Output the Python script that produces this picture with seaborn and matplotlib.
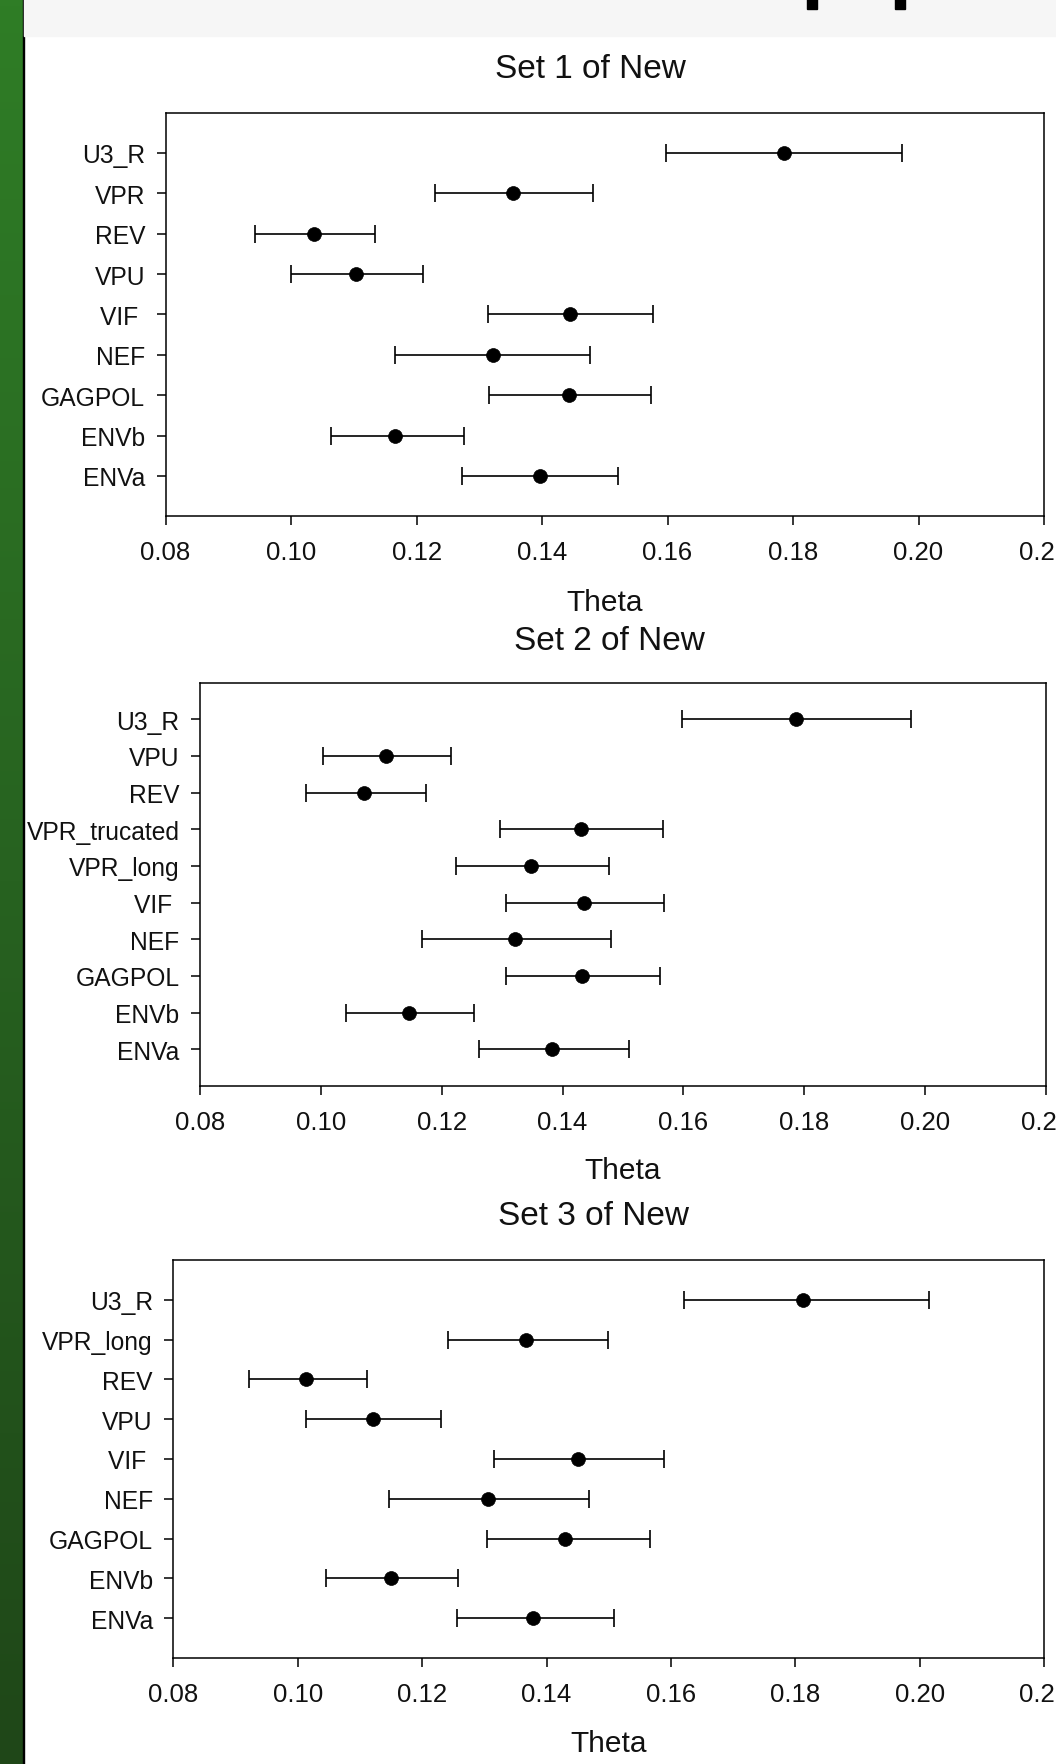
import numpy as np
import pandas as pd
import matplotlib
matplotlib.use("Agg")
import matplotlib.pyplot as plt
from matplotlib.patches import Rectangle
import seaborn as sns

# ---------------- data ----------------
set1_labels = ["U3_R", "VPR", "REV", "VPU", "VIF ", "NEF", "GAGPOL", "ENVb", "ENVa"]
set1_theta = [0.1785, 0.1353, 0.1037, 0.1104, 0.1444, 0.1322, 0.1443, 0.1166, 0.1396]
set1_low = [0.1597, 0.1229, 0.0943, 0.1000, 0.1314, 0.1165, 0.1316, 0.1063, 0.1273]
set1_high = [0.1974, 0.1481, 0.1133, 0.1211, 0.1577, 0.1477, 0.1574, 0.1276, 0.1521]

set2_labels = ["U3_R", "VPU", "REV", "VPR_trucated", "VPR_long", "VIF ", "NEF",
               "GAGPOL", "ENVb", "ENVa"]
set2_theta = [0.1786, 0.1107, 0.1072, 0.1430, 0.1348, 0.1436, 0.1322, 0.1432, 0.1146, 0.1382]
set2_low = [0.1598, 0.1004, 0.0975, 0.1296, 0.1224, 0.1306, 0.1168, 0.1306, 0.1042, 0.1262]
set2_high = [0.1976, 0.1215, 0.1174, 0.1566, 0.1477, 0.1568, 0.1480, 0.1562, 0.1253, 0.1510]

set3_labels = ["U3_R", "VPR_long", "REV", "VPU", "VIF ", "NEF", "GAGPOL", "ENVb", "ENVa"]
set3_theta = [0.1813, 0.1367, 0.1013, 0.1121, 0.1451, 0.1306, 0.1430, 0.1150, 0.1378]
set3_low = [0.1621, 0.1241, 0.0921, 0.1013, 0.1316, 0.1147, 0.1304, 0.1045, 0.1256]
set3_high = [0.2015, 0.1499, 0.1112, 0.1231, 0.1589, 0.1468, 0.1566, 0.1258, 0.1508]

titles = ["Set 1 of New", "Set 2 of New", "Set 3 of New"]
x_ticks = [0.08, 0.10, 0.12, 0.14, 0.16, 0.18, 0.20, 0.22]
x_label = "Theta"

# ---------------- style ----------------
sns.set_style("ticks")
plt.rcParams["font.family"] = ["Liberation Sans", "DejaVu Sans"]

W, H = 1056, 1765
fig = plt.figure(figsize=(W / 100, H / 100), dpi=100)
fig.patch.set_facecolor("white")

# background decorations (slide frame)
bg = fig.add_axes([0, 0, 1, 1], zorder=-10)
bg.set_xlim(0, W)
bg.set_ylim(H, 0)
bg.axis("off")
grad = np.linspace(0, 1, 256).reshape(-1, 1)
cmap = matplotlib.colors.LinearSegmentedColormap.from_list(
    "g", ["#2f7d26", "#276220", "#1f4718"])
bg.imshow(grad, cmap=cmap, extent=[0, 22.5, H, 0], aspect="auto", zorder=0)
bg.add_patch(Rectangle((22.5, 0), 1.3, H, color="black", zorder=1))
bg.add_patch(Rectangle((23.8, 0), W - 23.8, 37.3, color="#f6f6f6", zorder=1))
bg.add_patch(Rectangle((807, 0), 10, 9.5, color="black", zorder=2))
bg.add_patch(Rectangle((895, 0), 10, 9.5, color="black", zorder=2))


def rect(l, t, r, b):
    return [l / W, 1 - b / H, (r - l) / W, (b - t) / H]


panels = [
    (set1_labels, set1_theta, set1_low, set1_high, (165.6, 113.5, 1044, 517.3), (590, 70), 603),
    (set2_labels, set2_theta, set2_low, set2_high, (200, 683.5, 1046, 1087), (609, 641), 1171),
    (set3_labels, set3_theta, set3_low, set3_high, (173.4, 1261, 1044, 1659), (594, 1217), 1744),
]

for (labels, theta, low, high, box, tpos, theta_y), title in zip(panels, titles):
    l, t, r, b = box
    ax = fig.add_axes(rect(l, t, r, b))
    n = len(labels)
    ypos = np.arange(n)
    df = pd.DataFrame({"label": labels, "theta": theta, "low": low, "high": high, "y": ypos})
    theta_arr = df["theta"].to_numpy()
    xerr = np.vstack([theta_arr - df["low"].to_numpy(), df["high"].to_numpy() - theta_arr])
    ax.errorbar(df["theta"], df["y"], xerr=xerr, fmt="none", ecolor="black",
                elinewidth=1.2, capsize=6.5, capthick=1.2, zorder=2)
    sns.scatterplot(data=df, x="theta", y="y", ax=ax, color="black", s=100,
                    marker="o", edgecolor="black", linewidth=0.5, zorder=3, legend=False)
    ax.set_xlim(0.08, 0.22)
    ax.set_ylim(n, -1)
    ax.set_yticks(ypos)
    ax.set_yticklabels(labels)
    ax.set_xticks(x_ticks)
    ax.set_xticklabels([f"{v:.2f}" for v in x_ticks])
    ax.set_ylabel("")
    ax.set_xlabel(x_label, fontsize=21.5, color="#111111")
    ax.xaxis.set_label_coords(0.5, -(theta_y - b) / (b - t))
    ax.xaxis.label.set_va("center")
    ax.tick_params(axis="both", which="major", direction="out", length=6.8, width=1.1,
                   colors="black", labelcolor="#111111")
    ax.tick_params(axis="y", pad=8, labelsize=17.7)
    ax.tick_params(axis="x", pad=10.5, labelsize=18.5)
    for sp in ax.spines.values():
        sp.set_visible(True)
        sp.set_color("black")
        sp.set_linewidth(1.1)
    fig.text(tpos[0] / W, 1 - tpos[1] / H, title, fontsize=24, ha="center",
             va="center", color="#111111")

fig.savefig("out.png", dpi=100)
